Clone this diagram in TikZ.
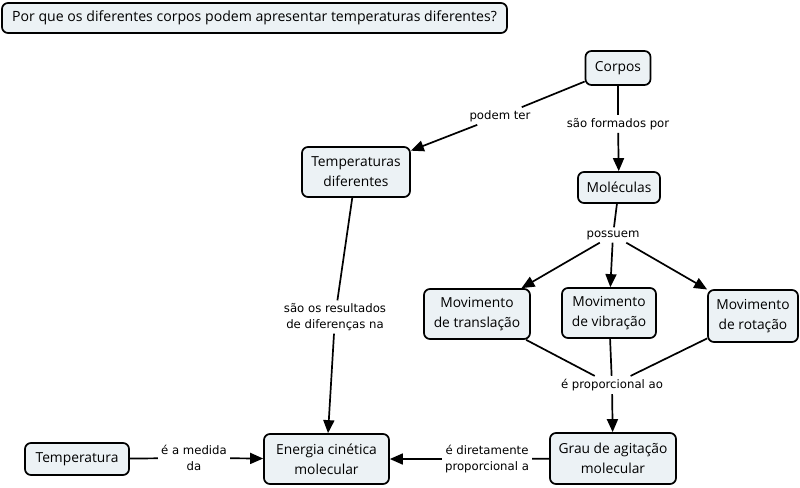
\documentclass[tikz,border=0pt]{standalone}
\usepackage{fontspec}
\setmainfont{Open Sans}
\newfontfamily\linkfont{DejaVu Sans}
\usetikzlibrary{arrows.meta}
\definecolor{conceptfill}{RGB}{236,242,245}
\begin{document}
\begin{tikzpicture}[x=1pt,y=-1pt,
  concept/.style={draw=black, line width=1.7pt, rounded corners=6pt, fill=conceptfill,
    align=center, font=\fontsize{13.8}{20}\selectfont, inner sep=2pt},
  linklabel/.style={align=center, font=\linkfont\fontsize{11.7}{15.5}\selectfont, inner sep=3pt},
  conn/.style={line width=1.7pt, black},
  arr/.style={conn, -{Triangle[length=13pt,width=11pt]}}
]
\useasboundingbox (0,0) rectangle (800,487);

% concepts
\node[concept, minimum width=505, minimum height=30, font=\fontsize{14.1}{18}\selectfont] (title) at (254.5,18) {Por que os diferentes corpos podem apresentar temperaturas diferentes?};
\node[concept, minimum width=65, minimum height=34] (corpos) at (618,68) {Corpos};
\node[concept, minimum width=108, minimum height=50] (tempdif) at (356,172) {Temperaturas\\diferentes};
\node[concept, minimum width=82, minimum height=31] (mol) at (619,187.5) {Moléculas};
\node[concept, minimum width=106, minimum height=50] (trans) at (477,314) {Movimento\\de translação};
\node[concept, minimum width=94, minimum height=50] (vib) at (609,313) {Movimento\\de vibração};
\node[concept, minimum width=90, minimum height=52] (rot) at (753,316) {Movimento\\de rotação};
\node[concept, minimum width=126, minimum height=51] (grau) at (613,458.5) {Grau de agitação\\molecular};
\node[concept, minimum width=125, minimum height=50] (energia) at (326.5,459) {Energia cinética\\molecular};
\node[concept, minimum width=104, minimum height=32] (temp) at (77,459) {Temperatura};

% linking phrases
\node[linklabel] (l1) at (500,116) {podem ter};
\node[linklabel] (l2) at (618,124) {são formados por};
\node[linklabel] (l3) at (613,235) {possuem};
\node[linklabel] (l4) at (335,317) {são os resultados\\de diferenças na};
\node[linklabel] (l5) at (612,385) {é proporcional ao};
\node[linklabel] (l6) at (194,458) {é a medida\\da};
\node[linklabel] (l7) at (487,459) {é diretamente\\proporcional a};

% connectors
\draw[conn] (corpos) -- (l1);
\draw[arr] (l1) -- (tempdif);
\draw[conn] (corpos) -- (l2);
\draw[arr] (l2) -- (mol);
\draw[conn] (mol) -- (l3);
\draw[arr] (l3) -- (trans);
\draw[arr] (l3) -- (vib);
\draw[arr] (l3) -- (rot);
\draw[conn] (tempdif) -- (l4);
\draw[arr] (l4) -- (energia);
\draw[conn] (trans) -- (l5);
\draw[conn] (vib) -- (l5);
\draw[conn] (rot) -- (l5);
\draw[arr] (l5) -- (grau);
\draw[conn] (grau) -- (l7);
\draw[arr] (l7) -- (energia);
\draw[conn] (temp) -- (l6);
\draw[arr] (l6) -- (energia);
\end{tikzpicture}
\end{document}
